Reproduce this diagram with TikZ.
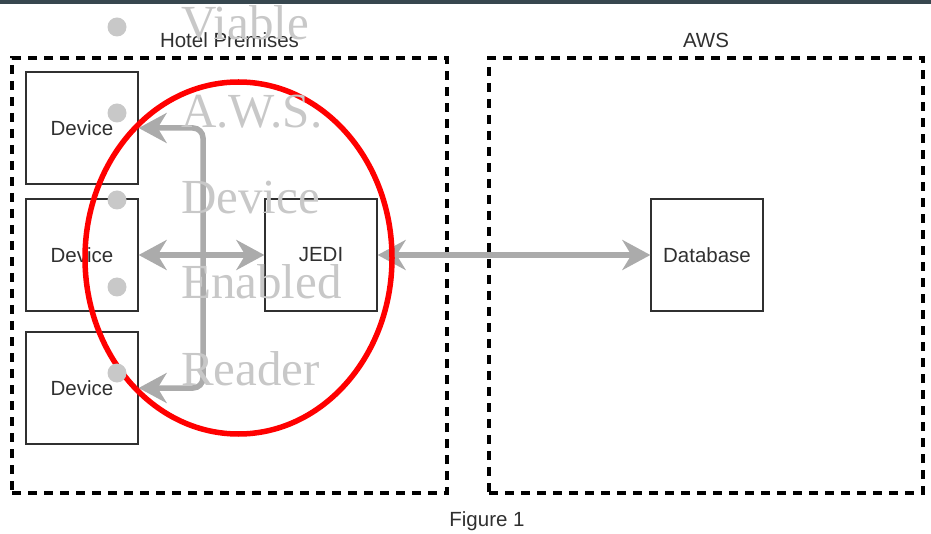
\documentclass[tikz,border=0pt]{standalone}
\usepackage{fontspec}
\newfontfamily\diafont{Liberation Sans}
\newfontfamily\ghostfont{Liberation Serif}
\usetikzlibrary{arrows.meta}
\definecolor{boxline}{HTML}{303030}
\definecolor{flowgray}{HTML}{ABABAB}
\definecolor{ghost}{HTML}{C8C8C8}
\definecolor{topbar}{HTML}{37474F}
\tikzset{
  dia/.style={font=\diafont\fontsize{20.5}{24}\selectfont, text=boxline},
  unit/.style={dia, draw=boxline, line width=1.3pt, minimum width=112pt, minimum height=112pt, inner sep=0pt},
  zone/.style={draw=black, line width=3.2pt, dash pattern=on 9pt off 7pt, minimum width=435pt, minimum height=435pt, inner sep=0pt},
  flow/.style={draw=flowgray, line width=5.5pt, rounded corners=10pt},
  dot/.style={circle, fill=ghost, minimum size=19pt, inner sep=0pt},
  ghosttext/.style={text=ghost, anchor=base west, inner sep=0pt, font=\ghostfont\fontsize{49}{52}\selectfont}
}
\begin{document}
\begin{tikzpicture}[x=1pt,y=-1pt,>={Stealth[length=28pt,width=30pt,inset=9pt]}]
\useasboundingbox (0,0) rectangle (931,534);
\fill[topbar] (0,0) rectangle (931,4);

\node[zone] (hotel) at (229.5,275.5){};
\node[zone, minimum width=434pt] (aws) at (706,275.5){};
\node[dia, anchor=base] (hotellbl) at (229.5,48){Hotel Premises};
\node[dia, anchor=base] (awslbl) at (706,48){AWS};

\node[unit] (dev1) at (82,128){Device};
\node[unit] (dev2) at (82,255){Device};
\node[unit] (dev3) at (82,388){Device};
\node[unit] (jedi) at (321,255){JEDI};
\node[unit] (db) at (707,255){Database};

\coordinate (hub) at (203,255);
\draw[flow,->](hub) |- (dev1.east);
\draw[flow,->](hub) |- (dev3.east);
\draw[flow,<->](dev2.east) -- (jedi.west);
\draw[flow,<->](jedi.east) -- (db.west);

\node[dia, anchor=base] (fig) at (487,526){Figure 1};

\draw[red, line width=5.5pt] (238.5,258) ellipse [x radius=153.5pt, y radius=176pt];

\node[dot] (b1) at (117,27){};
\node[dot] (b2) at (117,113){};
\node[dot] (b3) at (117,200){};
\node[dot] (b4) at (117,287){};
\node[dot] (b5) at (117,373){};
\node[ghosttext] (t1) at (181,40){Viable};
\node[ghosttext] (t2) at (181,128){A.W.S.};
\node[ghosttext] (t3) at (181,214){Device};
\node[ghosttext] (t4) at (181,299){Enabled};
\node[ghosttext] (t5) at (181,385){Reader};

\end{tikzpicture}
\end{document}
